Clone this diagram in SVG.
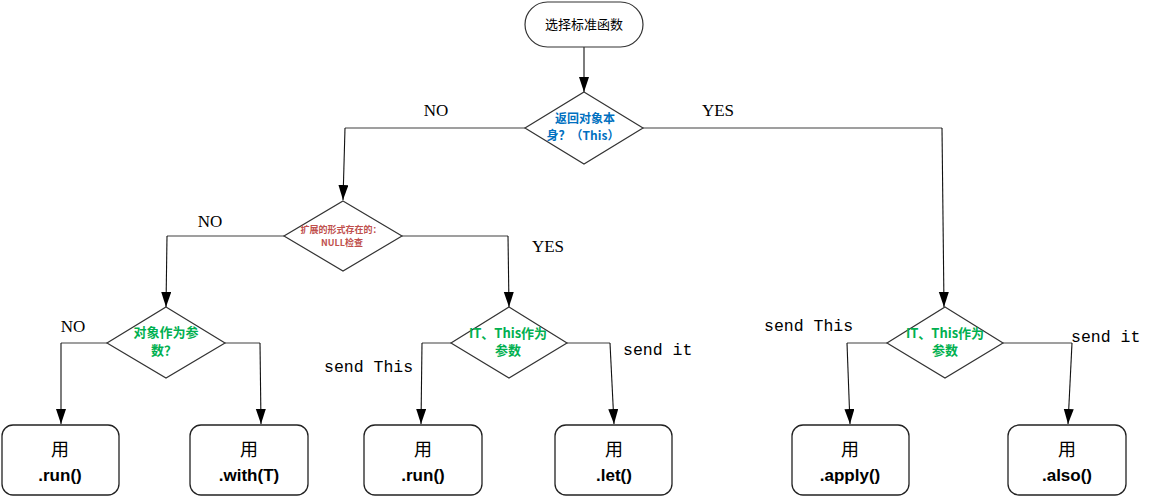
<svg xmlns="http://www.w3.org/2000/svg" width="1150" height="497" viewBox="0 0 1150 497">
<style>
.shape{fill:#fff;stroke:#333;stroke-width:1.2}
.box{fill:#fff;stroke:#222;stroke-width:1.3}
.h{fill:none;stroke:#7f7f7f;stroke-width:1.5}
.v{fill:none;stroke:#111;stroke-width:1.1;marker-end:url(#arr)}
.cjk{font-family:"Noto Sans CJK SC","Noto Sans",sans-serif;text-anchor:middle}
.blue{fill:#0070C0;font-weight:bold;font-size:12px}
.red{fill:#C0504D;font-weight:bold;font-size:9px}
.green{fill:#00B050;font-weight:bold;font-size:13px}
.yong{font-size:18px;fill:#000}
.fn{font-family:"Liberation Sans",Arial,sans-serif;font-weight:bold;font-size:17px;text-anchor:middle;fill:#000}
.lbl{font-family:"Liberation Serif","Times New Roman",serif;font-size:17px;fill:#000}
.mono{font-family:"Liberation Mono","Courier New",monospace;font-size:16.5px;fill:#000}
</style>
<defs>
<marker id="arr" markerUnits="userSpaceOnUse" markerWidth="16" markerHeight="11" refX="15" refY="5" orient="auto">
<path d="M0,0 L15,5 L0,10 Z" fill="#000"/>
</marker>
</defs>
<rect width="1150" height="497" fill="#fff"/>

<g id="connectors">
<path class="v" d="M584,47 L584,92"/>
<path class="h" d="M525,128 L345,128"/>
<path class="v" d="M345,128 L343,200"/>
<path class="h" d="M643,128 L942,128"/>
<path class="v" d="M942,128 L944,307"/>
<path class="h" d="M284,236 L167,236"/>
<path class="v" d="M167,236 L166,307"/>
<path class="h" d="M402,236 L508,236"/>
<path class="v" d="M508,236 L509,307"/>
<path class="h" d="M107,343 L61,343"/>
<path class="v" d="M61,343 L61,424"/>
<path class="h" d="M225,343 L260,343"/>
<path class="v" d="M260,343 L261,424"/>
<path class="h" d="M451,343 L422,343"/>
<path class="v" d="M422,343 L421,424"/>
<path class="h" d="M567,343 L610,343"/>
<path class="v" d="M610,343 L614,424"/>
<path class="h" d="M887,343 L847,343"/>
<path class="v" d="M847,343 L850,424"/>
<path class="h" d="M1003,343 L1072,343"/>
<path class="v" d="M1072,343 L1068,424"/>
</g>

<g id="labels">
<text class="lbl" x="436" y="116" text-anchor="middle">NO</text>
<text class="lbl" x="718" y="116" text-anchor="middle">YES</text>
<text class="lbl" x="210" y="227" text-anchor="middle">NO</text>
<text class="lbl" x="548" y="252" text-anchor="middle">YES</text>
<text class="lbl" x="73" y="332" text-anchor="middle">NO</text>
<text class="mono" x="324" y="372">send This</text>
<text class="mono" x="623" y="355">send it</text>
<text class="mono" x="764" y="331">send This</text>
<text class="mono" x="1071" y="342">send it</text>
</g>

<g id="start">
<rect class="shape" x="525" y="2" width="118" height="45" rx="22.5"/>
<text class="cjk" x="584" y="29" font-size="13" fill="#000">选择标准函数</text>
</g>

<g id="d1">
<polygon class="shape" points="584,92 643,128 584,164 525,128"/>
<text class="cjk blue" x="585" y="123">返回对象本</text>
<text class="cjk blue" x="583" y="140">身？（This）</text>
</g>

<g id="d2">
<polygon class="shape" points="343,201 402,236 343,271 284,236"/>
<text class="cjk red" x="341" y="233">扩展的形式存在的：</text>
<text class="cjk red" x="342" y="246">NULL检查</text>
</g>

<g id="d3">
<polygon class="shape" points="166,307 225,343 166,378 107,343"/>
<text class="cjk green" x="166" y="337">对象作为参</text>
<text class="cjk green" x="164" y="355">数？</text>
</g>

<g id="d4">
<polygon class="shape" points="509,307 567,343 509,378 451,343"/>
<text class="cjk green" x="508" y="338">IT、This作为</text>
<text class="cjk green" x="508" y="355">参数</text>
</g>

<g id="d5">
<polygon class="shape" points="945,307 1003,343 945,378 887,343"/>
<text class="cjk green" x="945" y="338">IT、This作为</text>
<text class="cjk green" x="945" y="355">参数</text>
</g>

<g id="b1">
<rect class="box" x="2" y="425" width="117" height="70" rx="11"/>
<text class="cjk yong" x="60" y="456">用</text>
<text class="fn" x="60" y="481">.run()</text>
</g>
<g id="b2">
<rect class="box" x="190" y="425" width="118" height="70" rx="11"/>
<text class="cjk yong" x="249" y="456">用</text>
<text class="fn" x="249" y="481">.with(T)</text>
</g>
<g id="b3">
<rect class="box" x="364" y="425" width="118" height="70" rx="11"/>
<text class="cjk yong" x="423" y="456">用</text>
<text class="fn" x="423" y="481">.run()</text>
</g>
<g id="b4">
<rect class="box" x="555" y="425" width="117" height="70" rx="11"/>
<text class="cjk yong" x="614" y="456">用</text>
<text class="fn" x="614" y="481">.let()</text>
</g>
<g id="b5">
<rect class="box" x="792" y="425" width="117" height="70" rx="11"/>
<text class="cjk yong" x="850" y="456">用</text>
<text class="fn" x="850" y="481">.apply()</text>
</g>
<g id="b6">
<rect class="box" x="1008" y="425" width="118" height="70" rx="11"/>
<text class="cjk yong" x="1067" y="456">用</text>
<text class="fn" x="1067" y="481">.also()</text>
</g>
</svg>
